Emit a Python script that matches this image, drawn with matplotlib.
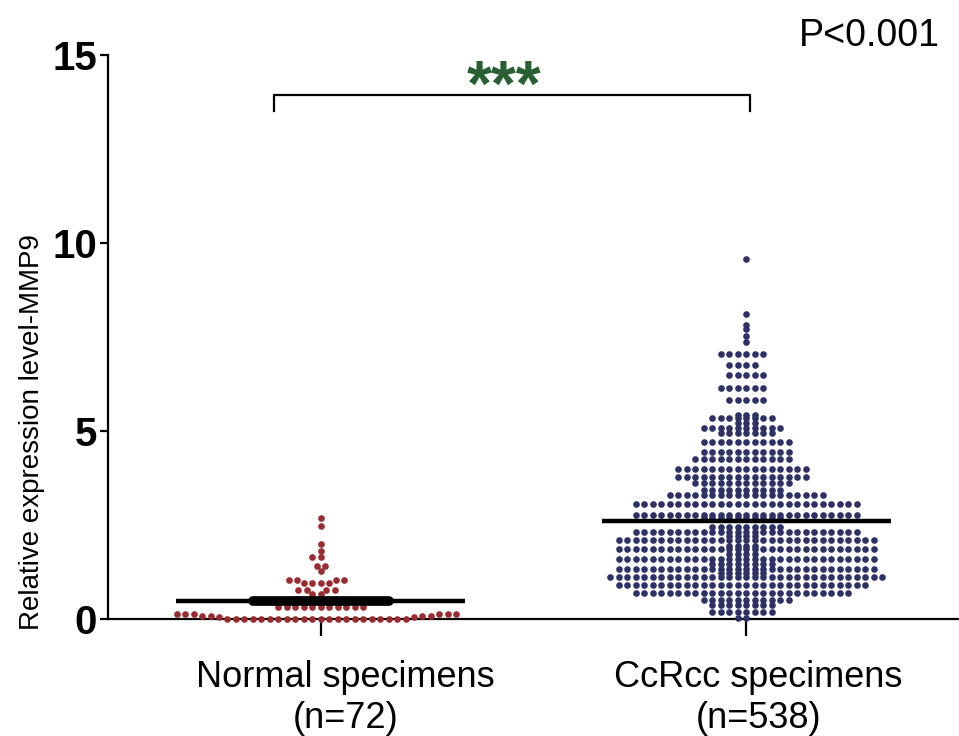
import numpy as np
import matplotlib
matplotlib.use('Agg')
import matplotlib.pyplot as plt
import matplotlib.transforms as mtransforms

plt.rcParams['font.family'] = ['Liberation Sans', 'DejaVu Sans']

# group labels and n shown under the axis
groups = ['Normal specimens\n(n=72)', 'CcRcc specimens\n(n=538)']

# relative MMP9 expression as (level, count of dots)
normal_levels = [2.68, 2.48, 1.99, 1.82, 1.64, 1.42, 1.28, 1.05, 0.95, 0.78, 0.66,
                 0.48, 0.31, 0.12, 0.09, 0.07, 0.04, 0.0]
normal_counts = [1, 1, 1, 1, 2, 2, 1, 4, 4, 4, 2,
                 17, 11, 6, 2, 2, 2, 22]

ccrcc_levels = [9.58, 8.12, 7.82, 7.71, 7.52, 7.38, 7.05, 6.75, 6.5, 6.15, 5.82,
                5.43, 5.34, 5.21, 5.07, 4.94, 4.72, 4.45, 4.25, 4.0, 3.78, 3.62,
                3.43, 3.30, 3.06, 2.77, 2.68, 2.45, 2.32, 2.2, 2.1, 1.95, 1.85,
                1.72, 1.6, 1.45, 1.32, 1.23, 1.13, 0.9, 0.68, 0.5, 0.37, 0.19, 0.02]
ccrcc_counts = [1, 1, 1, 1, 1, 1, 6, 4, 5, 6, 5,
                3, 8, 3, 10, 7, 11, 11, 12, 16, 16, 12,
                10, 19, 27, 27, 10, 9, 27, 4, 31, 4, 31,
                4, 31, 8, 31, 6, 33, 30, 26, 11, 8, 8, 2]

normal = np.repeat(normal_levels, normal_counts)
ccrcc = np.repeat(ccrcc_levels, ccrcc_counts)

RED = '#9a2b30'
NAVY = '#2f3066'
GREEN = '#2a5e33'


def swarm(values, step, gap):
    """Simple beeswarm: offsets so that dots do not overlap (elliptic metric)."""
    order = np.argsort(values, kind='stable')
    xs = np.zeros(len(values))
    placed = []
    for i in order:
        y = values[i]
        near = [(px, py) for px, py in placed if abs(py - y) < gap]
        cands = [0.0]
        for px, py in near:
            d = step * np.sqrt(1 - ((py - y) / gap) ** 2)
            cands += [px - d, px + d]
        cands.sort(key=abs)
        for c in cands:
            if all(((c - px) / step) ** 2 + ((py - y) / gap) ** 2 >= 1 - 1e-9
                   for px, py in near):
                xs[i] = c
                break
        placed.append((xs[i], y))
    return xs


fig = plt.figure(figsize=(9.59, 7.36), dpi=100)
ax = fig.add_axes([108 / 959, 1 - 619 / 736, 851 / 959, 564 / 736])

step = 0.02
for pos, vals, col, gap in [(1, normal, RED, 0.16), (2, ccrcc, NAVY, 0.085)]:
    off = swarm(vals, step, gap)
    ax.scatter(pos + off, vals, s=23, color=col, linewidths=0, zorder=3, clip_on=False)
    m = vals.mean()
    ax.hlines(m, pos - 0.34, pos + 0.34, color='black', lw=3.2, zorder=4)

# dense row of normal dots sitting right on the mean line
m0 = normal.mean()
band = np.abs(normal - m0) < 0.05
off0 = swarm(normal, step, 0.16)
ax.plot([1 + off0[band].min(), 1 + off0[band].max()], [m0, m0], color='black',
        lw=7, solid_capstyle='round', zorder=5)

ax.set_xlim(0.5, 2.5)
ax.set_ylim(0, 15)
ax.set_yticks([0, 5, 10, 15])
ax.set_xticks([1, 2])
ax.set_xticklabels(['', ''])
# group labels sit a little right of their ticks in the original
trans = mtransforms.blended_transform_factory(ax.transData, ax.transAxes)
for pos, lab, dx in zip([1, 2], groups, [0.058, 0.028]):
    ax.text(pos + dx, -0.073, lab, transform=trans, fontsize=26,
            ha='center', va='top', multialignment='center')
for t in ax.get_yticklabels():
    t.set_fontsize(29)
    t.set_fontweight('bold')

ax.spines['top'].set_visible(False)
ax.spines['right'].set_visible(False)
for sp in ['left', 'bottom']:
    ax.spines[sp].set_linewidth(1.6)
ax.tick_params(axis='y', length=6, width=1.6, pad=2)
ax.tick_params(axis='x', length=12, width=1.6)

ax.set_ylabel('Relative expression level-MMP9', fontsize=20)
ax.yaxis.set_label_coords(-0.074, 0.332)

# significance bracket
ax.plot([0.89, 0.89, 2.008, 2.008], [13.5, 13.94, 13.94, 13.5], color='black',
        lw=1.6, clip_on=False)
ax.text(1.431, 14.1, '***', color=GREEN, fontsize=46, fontweight='bold',
        ha='center', va='center')
fig.text(940 / 959, 1 - 46 / 736, 'P<0.001', fontsize=27, ha='right', va='baseline')

fig.savefig('out.png', dpi=100)
